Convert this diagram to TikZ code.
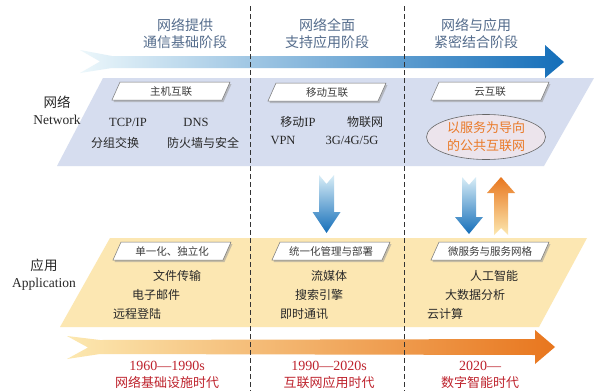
\documentclass[tikz,border=0pt]{standalone}
\usepackage{fontspec}
\setmainfont{Liberation Serif}
\newfontfamily\cjk{Noto Sans CJK SC}
\usetikzlibrary{shapes.geometric}
\definecolor{netband}{RGB}{214,221,239}
\definecolor{appband}{RGB}{252,231,178}
\definecolor{titleblue}{RGB}{84,108,140}
\definecolor{erared}{RGB}{190,35,45}
\definecolor{ellfill}{RGB}{236,228,236}
\definecolor{ellorange}{RGB}{234,122,40}
\definecolor{arrblueL}{RGB}{236,247,251}
\definecolor{arrblueM}{RGB}{140,200,230}
\definecolor{arrblueR}{RGB}{20,110,185}
\definecolor{arrorL}{RGB}{252,232,176}
\definecolor{arrorM}{RGB}{248,202,120}
\definecolor{arrorR}{RGB}{232,118,30}
\definecolor{txt}{RGB}{40,40,40}
\tikzset{
  coltitle/.style={font=\fontsize{14}{17}\selectfont\cjk, text=titleblue, align=center, inner sep=0pt},
  eralabel/.style={font=\fontsize{14}{16.5}\selectfont, text=erared, align=center, inner sep=0pt},
  rowlabel/.style={font=\fontsize{13.5}{17}\selectfont, text=txt, align=center, inner sep=0pt},
  item/.style={font=\fontsize{12}{14}\selectfont, text=txt, inner sep=0pt},
  latinitem/.style={font=\fontsize{12.5}{14}\selectfont, text=txt, inner sep=0pt},
  tagtext/.style={font=\fontsize{10.5}{12}\selectfont\cjk, text=txt!90, inner sep=0pt},
  sep/.style={draw=black!80, line width=0.9pt, dash pattern=on 5pt off 3pt},
}
\newcommand\mytag[4]{%
  \begin{scope}[shift={(#2,#3)}]
    \fill[black!40, opacity=.55] (-57.5,11) -- (52.5,11) -- (60.5,-7) -- (-49.5,-7) -- cycle;
    \filldraw[fill=white, draw=black!55, line width=.5pt] (-59,9) -- (51,9) -- (59,-9) -- (-51,-9) -- cycle;
    \node[tagtext] (#1) at (0,0.5) {#4};
  \end{scope}}
\begin{document}
\begin{tikzpicture}[x=1pt, y=-1pt]
\useasboundingbox (0,0) rectangle (594,391);
\fill[white] (0,0) rectangle (594,391);

% top arrow
\shade[left color=arrblueL, middle color=arrblueM, right color=arrblueR]
  (80,50) -- (112,56) -- (545,56) -- (545,45) -- (564,62) -- (545,78) -- (545,68)
  -- (112,68) -- (80,73) -- (100,61.5) -- cycle;

% bottom arrow
\shade[left color=arrorL, middle color=arrorM, right color=arrorR]
  (67,336) -- (100,340) -- (535,339) -- (535,330) -- (555,347) -- (535,364) -- (535,355)
  -- (100,354) -- (67,359) -- (88,347.5) -- cycle;

% bands
\fill[netband] (103,78) -- (594,78) -- (544,166) -- (57,166) -- cycle;
\fill[appband] (110,238) -- (587,238) -- (539,327) -- (60,327) -- cycle;

% vertical arrows
\shade[top color=arrblueL!80!arrblueM, bottom color=arrblueR]
  (319,175) -- (326.5,184) -- (334,175) -- (334,212) -- (340.5,212) -- (326.5,233)
  -- (312.5,212) -- (319,212) -- cycle;
\shade[top color=arrblueL!80!arrblueM, bottom color=arrblueR]
  (462,177) -- (469,185) -- (476,177) -- (476,217) -- (483,217) -- (469,234)
  -- (455,217) -- (462,217) -- cycle;
\shade[top color=arrorR, bottom color=arrorL]
  (501,177) -- (515,193) -- (508,193) -- (508,235) -- (501,228) -- (494,235)
  -- (494,193) -- (487,193) -- cycle;

% separators
\draw[sep] (250,6) -- (250,391);
\draw[sep] (404,6) -- (404,391);

% column titles
\node[coltitle] (t1) at (185,34) {网络提供\\通信基础阶段};
\node[coltitle] (t2) at (327,34) {网络全面\\支持应用阶段};
\node[coltitle] (t3) at (476,34) {网络与应用\\紧密结合阶段};

% row labels
\node[rowlabel] (rnet) at (57,110) {{\cjk 网络}\\Network};
\node[rowlabel] (rapp) at (44,275) {{\cjk 应用}\\Application};

% tags
\mytag{g1}{171}{91}{主机互联}
\mytag{g2}{327}{92}{移动互联}
\mytag{g3}{490}{91}{云互联}
\mytag{h1}{172}{251}{单一化、独立化}
\mytag{h2}{331}{251}{统一化管理与部署}
\mytag{h3}{490}{251}{微服务与服务网格}

% network items
\node[latinitem] (n1) at (128,122) {TCP/IP};
\node[latinitem] (n2) at (196,122) {DNS};
\node[item] (n3) at (115,143) {\cjk 分组交换};
\node[item] (n4) at (203,143) {\cjk 防火墙与安全};
\node[latinitem] (n5) at (298,122) {{\fontsize{12}{14}\selectfont\cjk 移动}IP};
\node[item] (n6) at (365,122) {\cjk 物联网};
\node[latinitem] (n7) at (283,140) {VPN};
\node[latinitem] (n8) at (352,140) {3G/4G/5G};

% ellipse
\node[draw=black!60, fill=ellfill, line width=.6pt, ellipse, minimum width=119pt, minimum height=45pt,
  inner sep=0pt, font=\fontsize{13}{18}\selectfont\cjk, text=ellorange, align=center] (ell) at (486,137)
  {以服务为导向\\的公共互联网};

% application items
\node[item] (a1) at (177,276) {\cjk 文件传输};
\node[item] (a2) at (156,295) {\cjk 电子邮件};
\node[item] (a3) at (137,314) {\cjk 远程登陆};
\node[item] (a4) at (329,276) {\cjk 流媒体};
\node[item] (a5) at (319,295) {\cjk 搜索引擎};
\node[item] (a6) at (304,314) {\cjk 即时通讯};
\node[item] (a7) at (494,276) {\cjk 人工智能};
\node[item] (a8) at (475,295) {\cjk 大数据分析};
\node[item] (a9) at (445,314) {\cjk 云计算};

% era labels
\node[eralabel] (e1) at (167,375) {1960—1990s\\{\fontsize{13}{16.5}\selectfont\cjk 网络基础设施时代}};
\node[eralabel] (e2) at (329,375) {1990—2020s\\{\fontsize{13}{16.5}\selectfont\cjk 互联网应用时代}};
\node[eralabel] (e3) at (480,375) {2020—\\{\fontsize{13}{16.5}\selectfont\cjk 数字智能时代}};
\end{tikzpicture}
\end{document}
